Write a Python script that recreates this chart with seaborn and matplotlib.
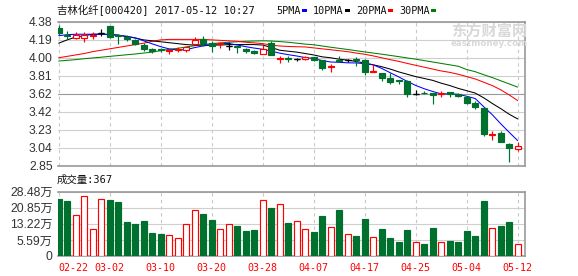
import numpy as np
import matplotlib
matplotlib.use("Agg")
import matplotlib.pyplot as plt
import seaborn as sns
from matplotlib.patches import Rectangle

sns.set_style("white")
plt.rcParams['font.family'] = ['Liberation Sans', 'Noto Sans CJK SC']

# ---------------- data ----------------
title = "吉林化纤[000420] 2017-05-12 10:27"
vol_title = "成交量:367"
date_labels = ["02-22", "03-02", "03-10", "03-20", "03-28",
               "04-07", "04-17", "04-25", "05-04", "05-12"]

opens = [4.32, 4.24, 4.21, 4.21, 4.23, 4.26, 4.34, 4.24, 4.22, 4.19,
         4.14, 4.09, 4.09, 4.07, 4.08, 4.08, 4.145, 4.20, 4.16, 4.15,
         4.125, 4.12, 4.09, 4.075, 4.04, 4.16, 3.99, 4.00, 3.985, 3.985,
         4.01, 3.98, 3.905, 3.98, 3.976, 3.985, 3.98, 3.85, 3.84, 3.79,
         3.76, 3.75, 3.62, 3.63, 3.625, 3.62, 3.635, 3.62, 3.585, 3.52,
         3.47, 3.175, 3.20, 3.085, 3.03]
closes = [4.26, 4.23, 4.24, 4.24, 4.24, 4.26, 4.22, 4.23, 4.20, 4.15,
          4.09, 4.07, 4.08, 4.08, 4.09, 4.11, 4.19, 4.16, 4.13, 4.155,
          4.125, 4.11, 4.07, 4.055, 4.09, 4.03, 4.00, 3.99, 3.985, 4.005,
          3.98, 3.89, 3.915, 3.97, 3.976, 3.975, 3.85, 3.855, 3.78, 3.745,
          3.755, 3.61, 3.62, 3.625, 3.60, 3.625, 3.615, 3.595, 3.52, 3.48,
          3.19, 3.195, 3.11, 3.045, 3.06]
highs = [4.35, 4.28, 4.27, 4.27, 4.27, 4.31, 4.34, 4.25, 4.24, 4.20,
         4.16, 4.10, 4.10, 4.09, 4.11, 4.11, 4.22, 4.23, 4.18, 4.17,
         4.17, 4.13, 4.10, 4.08, 4.15, 4.18, 4.02, 4.02, 4.00, 4.02,
         4.01, 3.98, 3.93, 4.02, 3.99, 4.01, 3.99, 3.93, 3.84, 3.835,
         3.765, 3.76, 3.66, 3.645, 3.63, 3.645, 3.64, 3.63, 3.59, 3.54,
         3.48, 3.225, 3.225, 3.09, 3.11]
lows = [4.24, 4.20, 4.20, 4.17, 4.20, 4.23, 4.21, 4.15, 4.18, 4.14,
        4.07, 4.05, 4.06, 4.04, 4.06, 4.06, 4.14, 4.12, 4.06, 4.10,
        4.08, 4.05, 4.05, 4.04, 4.04, 4.03, 3.94, 3.96, 3.97, 3.98,
        3.97, 3.87, 3.85, 3.96, 3.96, 3.91, 3.82, 3.85, 3.75, 3.72,
        3.72, 3.58, 3.60, 3.61, 3.51, 3.585, 3.585, 3.58, 3.51, 3.46,
        3.17, 3.13, 3.10, 2.895, 3.01]
volumes = [25.2, 24.4, 18.0, 26.6, 11.8, 25.1, 24.8, 23.9, 15.1, 14.2,
           15.5, 10.2, 9.7, 9.2, 7.8, 14.0, 20.2, 18.6, 15.9, 11.8,
           14.0, 13.3, 11.1, 11.5, 24.7, 21.3, 22.9, 14.6, 15.4, 11.8,
           10.6, 17.7, 12.7, 20.4, 9.6, 8.9, 16.4, 8.3, 12.0, 8.0,
           6.3, 11.5, 6.2, 5.3, 12.4, 6.2, 6.6, 6.2, 11.1, 8.9,
           24.4, 12.4, 13.3, 15.1, 5.3]
ma5 = [4.235, 4.245, 4.25, 4.25, 4.25, 4.25, 4.245, 4.24, 4.228, 4.212,
       4.18, 4.148, 4.118, 4.094, 4.082, 4.086, 4.108, 4.126, 4.136, 4.149,
       4.152, 4.136, 4.118, 4.103, 4.09, 4.071, 4.049, 4.033, 4.019, 4.002,
       3.992, 3.97, 3.955, 3.952, 3.946, 3.945, 3.937, 3.925, 3.887, 3.841,
       3.797, 3.749, 3.706, 3.671, 3.642, 3.616, 3.617, 3.612, 3.591, 3.567,
       3.48, 3.396, 3.299, 3.208, 3.12]
ma10 = [4.155, 4.19, 4.22, 4.235, 4.25, 4.25, 4.25, 4.24, 4.225, 4.21,
        4.19, 4.18, 4.17, 4.16, 4.15, 4.14, 4.135, 4.135, 4.135, 4.135,
        4.14, 4.14, 4.14, 4.14, 4.135, 4.11, 4.08, 4.07, 4.06, 4.045,
        4.03, 4.01, 4.00, 3.985, 3.975, 3.96, 3.945, 3.925, 3.905, 3.88,
        3.85, 3.825, 3.80, 3.78, 3.76, 3.73, 3.705, 3.675, 3.65, 3.625,
        3.575, 3.515, 3.46, 3.40, 3.35]
ma20 = [4.00, 4.015, 4.03, 4.045, 4.065, 4.08, 4.095, 4.11, 4.125, 4.14,
        4.155, 4.175, 4.19, 4.195, 4.195, 4.195, 4.195, 4.195, 4.19, 4.185,
        4.18, 4.175, 4.165, 4.158, 4.15, 4.135, 4.125, 4.12, 4.117, 4.115,
        4.105, 4.095, 4.085, 4.075, 4.065, 4.05, 4.037, 4.02, 4.00, 3.98,
        3.962, 3.94, 3.92, 3.90, 3.88, 3.86, 3.845, 3.825, 3.80, 3.775,
        3.74, 3.705, 3.66, 3.605, 3.545]
ma30 = [3.965, 3.973, 3.98, 3.99, 3.998, 4.006, 4.015, 4.023, 4.032, 4.04,
        4.05, 4.06, 4.075, 4.09, 4.10, 4.115, 4.128, 4.14, 4.15, 4.158,
        4.165, 4.17, 4.175, 4.178, 4.18, 4.178, 4.172, 4.165, 4.155, 4.145,
        4.138, 4.125, 4.112, 4.10, 4.088, 4.075, 4.062, 4.05, 4.038, 4.025,
        4.012, 3.998, 3.985, 3.97, 3.955, 3.94, 3.925, 3.91, 3.875, 3.852,
        3.82, 3.79, 3.756, 3.722, 3.688]
price_labels = ["2.85", "3.04", "3.23", "3.42", "3.62", "3.81", "4.00", "4.19", "4.38"]
vol_labels = ["0", "5.59万", "13.22万", "20.85万", "28.48万"]
legend_names = ["5PMA", "10PMA", "20PMA", "30PMA"]
legend_colors = ["#0000ff", "#000000", "#ff0000", "#008000"]

# ---------------- figure ----------------
W, H = 578, 276
fig = plt.figure(figsize=(W / 100, H / 100), dpi=100)
L, R = 57.5, 525


def fx(px):
    return px / W


def fy(py):
    return 1 - py / H


ax = fig.add_axes([fx(L), fy(166), fx(R - L), (166 - 22) / H])
axv = fig.add_axes([fx(L), fy(256), fx(R - L), (256 - 191.7) / H])

GREEN = "#00702f"
RED = "#ff0000"
o = np.array(opens); c = np.array(closes)
hi = np.array(highs); lo = np.array(lows)
idx = np.arange(len(o))
up = c > o
down = c < o
flat = c == o
cand_col = np.where(up, RED, np.where(down, GREEN, "#000000"))

# MA lines
for ma, col in zip([ma30, ma20, ma10, ma5], legend_colors[::-1]):
    sns.lineplot(x=idx, y=ma, ax=ax, color=col, lw=0.75, zorder=2)

# candles
ax.vlines(idx, lo, hi, colors=cand_col, lw=0.85, zorder=3)
bw = 0.7
bottoms = np.minimum(o, c)
heights = np.abs(c - o)
face = np.where(up, "white", np.where(down, GREEN, "#000000"))
ax.bar(idx, heights, bottom=bottoms, width=bw, color=face, edgecolor=cand_col,
       linewidth=0.85, zorder=4)
ax.hlines(o[flat], idx[flat] - bw / 2, idx[flat] + bw / 2, colors="#000000", lw=0.9, zorder=4)

# volume
vcol = np.where(c >= o, RED, GREEN)
vface = np.where(c >= o, "white", GREEN)
axv.bar(idx, volumes, width=0.72, color=vface, edgecolor=vcol, linewidth=0.85, zorder=3)

xlim = (-0.14, len(o) - 1 + 0.86)
tick_pos = np.arange(0, len(o), 6)
for a in (ax, axv):
    a.set_xlim(*xlim)
    a.set_xticks(tick_pos)
    a.set_xlabel(""); a.set_ylabel("")
    a.grid(axis="x", color="#c8c8c8", lw=0.8, ls=(0, (3, 3)))
    a.grid(axis="y", color="#cfcfcf", lw=0.8, ls="-")
    a.set_axisbelow(True)
    a.spines["left"].set_visible(False)
    for s in ("top", "right", "bottom"):
        a.spines[s].set_color("#999999")
        a.spines[s].set_linewidth(1.2)
    a.tick_params(length=0, labelcolor="#333333", labelsize=8.7, pad=3.5)

# price axis
ax.set_ylim(2.85, 4.38)
ax.set_yticks(np.linspace(2.85, 4.38, 9))
ax.set_yticklabels(price_labels)
ax.set_xticklabels([])
ax.get_ygridlines()[4].set_color("#999999")

# volume axis
axv.set_ylim(0, 28.48)
axv.set_yticks(np.linspace(0, 28.48, 5))
axv.set_yticklabels(vol_labels)
axv.set_xticklabels(date_labels, color=RED, fontsize=7.2,
                    family=["DejaVu Sans Mono", "Noto Sans CJK SC"])
axv.tick_params(axis="x", pad=5)
axv.get_xticklabels()[0].set_horizontalalignment("left")

# texts
mono = ["DejaVu Sans Mono", "Noto Sans CJK SC"]
fig.text(fx(57), fy(10.5), title, family=mono, fontsize=7.5, va="center", ha="left", color="#111111")
fig.text(fx(57), fy(179.5), vol_title, family=mono, fontsize=7.5, va="center", ha="left", color="#111111")

lx = [276, 313, 356, 399]
for x0, name, col in zip(lx, legend_names, legend_colors):
    fig.text(fx(x0), fy(10.5), name, family=mono, fontsize=7.3, va="center", ha="left", color="#111111")
    w = 6.0 * len(name)
    fig.add_artist(Rectangle((fx(x0 + w + 2), fy(12)), 5 / W, 3 / H,
                             transform=fig.transFigure, color=col, lw=0))

# watermark
fig.text(fx(489), fy(31), "东方财富网", family=["Noto Sans CJK SC"], fontsize=11,
         fontweight="bold", color="#d9d9d9", ha="center", va="center", zorder=0)
fig.text(fx(489), fy(43), "eastmoney.com", family=["DejaVu Sans"], fontsize=6.3,
         fontweight="bold", color="#d9d9d9", ha="center", va="center", zorder=0)

fig.savefig("out.png", dpi=100)
